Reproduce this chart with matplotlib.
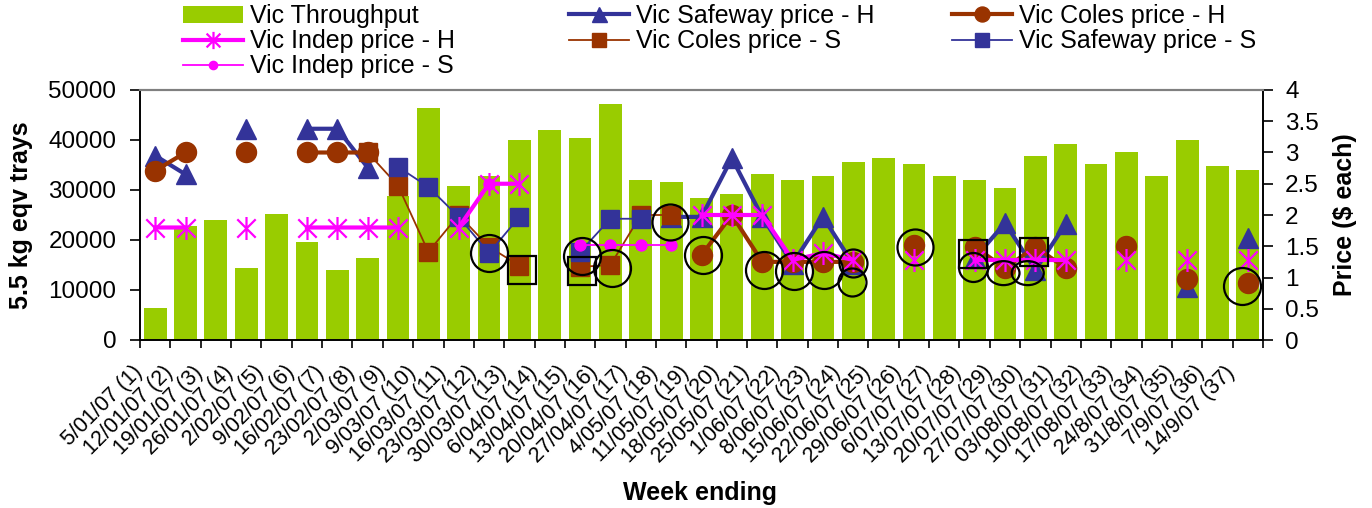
import numpy as np
import matplotlib
matplotlib.use("Agg")
import matplotlib.pyplot as plt
from matplotlib.path import Path
from matplotlib.patches import Ellipse
from matplotlib.transforms import ScaledTranslation
from matplotlib.ticker import FuncFormatter, MultipleLocator

plt.rcParams['font.family'] = ['Liberation Sans', 'DejaVu Sans']

nan = np.nan
weeks = ["5/01/07 (1)", "12/01/07 (2)", "19/01/07 (3)", "26/01/07 (4)", "2/02/07 (5)",
         "9/02/07 (6)", "16/02/07 (7)", "23/02/07 (8)", "2/03/07 (9)", "9/03/07 (10)",
         "16/03/07 (11)", "23/03/07 (12)", "30/03/07 (13)", "6/04/07 (14)", "13/04/07 (15)",
         "20/04/07 (16)", "27/04/07 (17)", "4/05/07 (18)", "11/05/07 (19)", "18/05/07 (20)",
         "25/05/07 (21)", "1/06/07 (22)", "8/06/07 (23)", "15/06/07 (24)", "22/06/07 (25)",
         "29/06/07 (26)", "6/07/07 (27)", "13/07/07 (28)", "20/07/07 (29)", "27/07/07 (30)",
         "03/08/07 (31)", "10/08/07 (32)", "17/08/07 (33)", "24/8/07 (34)", "31/8/07 (35)",
         "7/9/07 (36)", "14/9/07 (37)"]

throughput = [6400, 22800, 24000, 14400, 25200, 19600, 14000, 16400, 28800, 46400,
              30800, 32800, 40000, 42000, 40400, 47200, 32000, 31600, 28400, 29200,
              33200, 32000, 32800, 35600, 36400, 35200, 32800, 32000, 30400, 36800,
              39200, 35200, 37600, 32800, 40000, 34800, 34000]

safeway_h = [2.95, 2.65, nan, 3.38, nan, 3.38, 3.38, 2.76, nan, nan,
             nan, nan, nan, nan, nan, nan, nan, 1.97, 1.97, 2.91,
             1.97, 1.22, 1.97, 1.21, nan, nan, nan, 1.31, 1.87, 1.12,
             1.86, nan, nan, nan, 0.85, nan, 1.63]

coles_h = [2.71, 3.0, nan, 3.0, nan, 3.0, 3.0, 3.0, nan, nan,
           nan, nan, nan, nan, nan, nan, nan, nan, 1.36, 2.0,
           1.25, 1.25, 1.25, 1.25, nan, 1.52, nan, 1.49, 1.15, 1.49,
           1.15, nan, 1.5, nan, 0.97, nan, 0.91]

indep_h = [1.8, 1.8, nan, 1.8, nan, 1.8, 1.8, 1.8, 1.8, nan,
           1.8, 2.5, 2.5, nan, nan, nan, nan, nan, 2.0, 2.0,
           2.0, 1.28, 1.39, 1.28, nan, 1.28, nan, 1.28, 1.28, 1.28,
           1.28, nan, 1.28, nan, 1.28, nan, 1.28]

coles_s = [nan, nan, nan, nan, nan, nan, nan, 3.0, 2.47, 1.41,
           2.0, 1.49, 1.19, nan, 1.17, 1.2, 2.0, 2.0, nan, nan,
           nan, nan, nan, nan, nan, nan, nan, nan, nan, nan,
           nan, nan, nan, nan, nan, nan, nan]

safeway_s = [nan, nan, nan, nan, nan, nan, nan, nan, 2.77, 2.45,
             1.97, 1.39, 1.97, nan, 1.41, 1.94, 1.94, nan, nan, nan,
             nan, nan, nan, nan, nan, nan, nan, nan, nan, nan,
             nan, nan, nan, nan, nan, nan, nan]

indep_s = [nan, nan, nan, nan, nan, nan, nan, nan, nan, nan,
           nan, 2.5, nan, nan, 1.52, 1.52, 1.52, 1.52, nan, nan,
           nan, nan, nan, nan, nan, nan, nan, nan, nan, nan,
           nan, nan, nan, nan, nan, nan, nan]

# highlight annotations (week position, price, diameter px)
ring_week = [12, 15.05, 16.05, 17.95, 19.05, 21.05, 22.05, 23.05, 24.0, 23.95, 26.05, 27.95, 36.8]
ring_price = [1.39, 1.34, 1.15, 1.89, 1.36, 1.12, 1.11, 1.12, 1.23, 0.93, 1.49, 1.17, 0.86]
ring_size = [37, 37, 37, 36, 37, 37, 37, 37, 28, 28, 36, 29, 37]
box_week = [13.1, 15.05, 27.95, 29.95]
box_price = [1.12, 1.10, 1.38, 1.41]
oval_week = [28.95, 29.75]
oval_price = [1.07, 1.07]

GREEN = '#99CC00'
BLUE = '#333399'
BROWN = '#993300'
PINK = '#FF00FF'

W, H = 1372, 508
fig = plt.figure(figsize=(W / 100, H / 100), dpi=100)
ax = fig.add_axes([140 / W, 168 / H, 1123 / W, 250 / H])
ax2 = ax.twinx()

x = np.arange(1, len(weeks) + 1)
bars = ax.bar(x, throughput, width=0.75, color=GREEN, label='Vic Throughput', zorder=2)

ax.set_xlim(0.5, len(weeks) + 0.5)
ax.set_ylim(0, 50000)
ax.yaxis.set_major_locator(MultipleLocator(10000))
ax2.set_ylim(0, 4)
ax2.yaxis.set_major_locator(MultipleLocator(0.5))
ax2.yaxis.set_major_formatter(FuncFormatter(lambda v, p: f'{v:g}'))

star = Path([(0, -1), (0, 1), (-0.8, -0.8), (0.8, 0.8), (-0.8, 0.8), (0.8, -0.8)],
            [Path.MOVETO, Path.LINETO, Path.MOVETO, Path.LINETO, Path.MOVETO, Path.LINETO])

pt = 0.72
l_saf_h, = ax2.plot(x, safeway_h, color=BLUE, lw=3, marker='^', ms=20 * pt,
                    label='Vic Safeway price - H', zorder=3)
l_col_h, = ax2.plot(x, coles_h, color=BROWN, lw=3, marker='o', ms=20 * pt,
                    label='Vic Coles price - H', zorder=4)
l_col_s, = ax2.plot(x, coles_s, color=BROWN, lw=1.3, marker='s', ms=18 * pt,
                    label='Vic Coles price - S', zorder=5)
l_saf_s, = ax2.plot(x, safeway_s, color=BLUE, lw=1.3, marker='s', ms=18 * pt,
                    label='Vic Safeway price - S', zorder=6)
l_ind_h, = ax2.plot(x, indep_h, color=PINK, lw=3, marker=star, ms=23 * pt, mew=1.6,
                    fillstyle='none', label='Vic Indep price - H', zorder=7)
l_ind_s, = ax2.plot(x, indep_s, color=PINK, lw=1.3, marker='o', ms=11 * pt,
                    label='Vic Indep price - S', zorder=8)

for wk, pr, sz in zip(ring_week, ring_price, ring_size):
    ax2.plot([wk], [pr], marker='o', ms=sz * pt, mfc='none', mec='black', mew=1.6,
             ls='none', zorder=9)
ax2.plot(box_week, box_price, marker='s', ms=28 * pt, mfc='none', mec='black', mew=1.6,
         ls='none', zorder=9)
for wk, pr in zip(oval_week, oval_price):
    ax2.add_patch(Ellipse((wk, pr), width=32 / 30.35, height=24 / 62.5, fill=False,
                          ec='black', lw=1.6, zorder=9))

# axes styling
ax.set_zorder(1)
ax2.set_zorder(2)
ax2.patch.set_visible(False)
for a in (ax, ax2):
    a.spines['top'].set_color('#808080')
    a.spines['top'].set_linewidth(1.5)
    for s in ('left', 'right', 'bottom'):
        a.spines[s].set_linewidth(1.2)
        a.spines[s].set_color('black')

ax.set_xticks(x)
ax.set_xticklabels(weeks, rotation=45, ha='right', va='center', rotation_mode='anchor',
                   fontsize=15.5)
ax.set_xticks(np.arange(0.5, len(weeks) + 1, 1), minor=True)
ax.tick_params(axis='x', which='major', length=0, pad=21)
ax.tick_params(axis='x', which='minor', length=6, width=1.2, direction='out')
offset = ScaledTranslation(-0.16, 0, fig.dpi_scale_trans)
for lbl in ax.get_xticklabels():
    lbl.set_transform(lbl.get_transform() + offset)

ax.tick_params(axis='y', labelsize=17.5, length=7, width=1.2, direction='out', pad=10)
ax2.tick_params(axis='y', labelsize=17.5, length=7, width=1.2, direction='out', pad=9)

ax.set_ylabel('5.5 kg eqv trays', fontsize=18, fontweight='bold')
ax.yaxis.set_label_coords(-0.095, 0.5)
ax2.set_ylabel('Price ($ each)', fontsize=18, fontweight='bold')
ax2.yaxis.set_label_coords(1.062, 0.5)
fig.text(700 / W, 1 - 493 / H, 'Week ending', fontsize=18, fontweight='bold',
         ha='center', va='center')

# legend in three columns
cols = [([bars, l_ind_h, l_ind_s], 183), ([l_saf_h, l_col_s], 569), ([l_col_h, l_saf_s], 952)]
for handles, xpos in cols:
    leg = fig.legend(handles=handles, labels=[h.get_label() for h in handles],
                     loc='upper left', bbox_to_anchor=(xpos / W, 1 - 4 / H),
                     frameon=False, fontsize=18, borderpad=0, borderaxespad=0,
                     handlelength=2.4, handletextpad=0.28, labelspacing=0.05,
                     markerscale=0.75)

fig.savefig('out.png', dpi=100, facecolor='white')
